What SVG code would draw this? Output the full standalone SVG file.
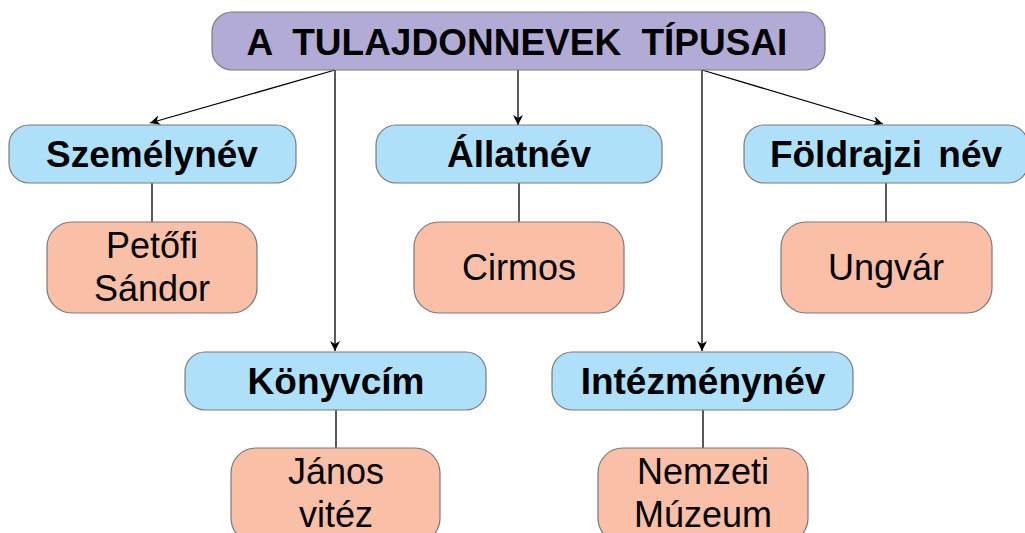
<svg xmlns="http://www.w3.org/2000/svg" width="1025" height="533" viewBox="0 0 1025 533">
<defs>
<marker id="arr" viewBox="0 0 10 10" refX="10" refY="5" markerWidth="10" markerHeight="10" markerUnits="userSpaceOnUse" orient="auto">
<path d="M0,0 L10,5 L0,10 L3,5 Z" fill="#000"/>
</marker>
<style>
.title{fill:#b1abd6;stroke:#7a7a7a;stroke-width:1.2}
.cat{fill:#aee1f9;stroke:#7a7a7a;stroke-width:1.2}
.ex{fill:#f9bfa7;stroke:#7a7a7a;stroke-width:1.2}
.tb{font-family:"Liberation Sans",Arial,sans-serif;font-weight:bold;font-size:37px;fill:#000;text-anchor:middle}
.tr{font-family:"Liberation Sans",Arial,sans-serif;font-size:36px;fill:#000;text-anchor:middle}
.ln{stroke:#000;stroke-width:1.3;fill:none}
</style>
</defs>
<rect width="1025" height="533" fill="#fff"/>
<g id="connectors">
<line class="ln" x1="335" y1="70" x2="150" y2="123" marker-end="url(#arr)"/>
<line class="ln" x1="335" y1="70" x2="335" y2="351" marker-end="url(#arr)"/>
<line class="ln" x1="518" y1="70" x2="518" y2="125" marker-end="url(#arr)"/>
<line class="ln" x1="702" y1="70" x2="702" y2="351" marker-end="url(#arr)"/>
<line class="ln" x1="702" y1="70" x2="883" y2="124" marker-end="url(#arr)"/>
<line class="ln" x1="152" y1="183" x2="152" y2="222"/>
<line class="ln" x1="519" y1="183" x2="519" y2="222"/>
<line class="ln" x1="886" y1="183" x2="886" y2="222"/>
<line class="ln" x1="336" y1="410" x2="336" y2="448"/>
<line class="ln" x1="703" y1="410" x2="703" y2="448"/>
</g>
<g id="title">
<rect class="title" x="212" y="12" width="613" height="58" rx="20"/>
<text class="tb" x="517" y="55" style="word-spacing:10px">A TULAJDONNEVEK TÍPUSAI</text>
</g>
<g id="szemelynev">
<rect class="cat" x="9" y="125" width="287" height="58" rx="20"/>
<text class="tb" x="152" y="167">Személynév</text>
</g>
<g id="allatnev">
<rect class="cat" x="376" y="125" width="286" height="58" rx="20"/>
<text class="tb" x="519" y="167">Állatnév</text>
</g>
<g id="foldrajzi">
<rect class="cat" x="744" y="125" width="284" height="58" rx="20"/>
<text class="tb" x="886" y="167" style="word-spacing:6px">Földrajzi név</text>
</g>
<g id="petofi">
<rect class="ex" x="47" y="222" width="210" height="91" rx="25"/>
<text class="tr" x="152" y="258">Petőfi</text>
<text class="tr" x="152" y="301">Sándor</text>
</g>
<g id="cirmos">
<rect class="ex" x="414" y="222" width="210" height="91" rx="25"/>
<text class="tr" x="519" y="280">Cirmos</text>
</g>
<g id="ungvar">
<rect class="ex" x="781" y="222" width="211" height="91" rx="25"/>
<text class="tr" x="886" y="280">Ungvár</text>
</g>
<g id="konyvcim">
<rect class="cat" x="185" y="352" width="301" height="58" rx="20"/>
<text class="tb" x="336" y="394">Könyvcím</text>
</g>
<g id="janos">
<rect class="ex" x="231" y="448" width="209" height="95" rx="25"/>
<text class="tr" x="336" y="484">János</text>
<text class="tr" x="336" y="527">vitéz</text>
</g>
<g id="intezmenynev">
<rect class="cat" x="552" y="352" width="301" height="58" rx="20"/>
<text class="tb" x="703" y="394">Intézménynév</text>
</g>
<g id="nemzeti">
<rect class="ex" x="598" y="448" width="210" height="95" rx="25"/>
<text class="tr" x="703" y="484">Nemzeti</text>
<text class="tr" x="703" y="527">Múzeum</text>
</g>
</svg>
